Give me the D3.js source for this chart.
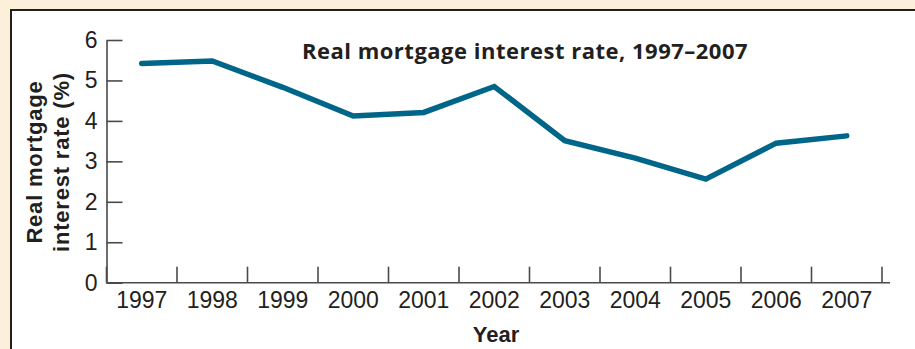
<!DOCTYPE html>
<html>
<head>
<meta charset="utf-8">
<script src="https://cdn.jsdelivr.net/npm/d3@7"></script>
<style>
  html, body { margin: 0; padding: 0; background: #fcf0db; }
  svg { display: block; }
</style>
</head>
<body>
<svg id="chart" width="915" height="349"></svg>
<script>
// Real mortgage interest rate by year (%)
const years = ["1997", "1998", "1999", "2000", "2001", "2002", "2003", "2004", "2005", "2006", "2007"];
const rates = [5.42, 5.48, 4.83, 4.12, 4.21, 4.85, 3.51, 3.08, 2.56, 3.45, 3.63];
const yTicks = [0, 1, 2, 3, 4, 5, 6];

const titleText = "Real mortgage interest rate, 1997\u20132007";
const yLabelLines = ["Real mortgage", "interest rate (%)"];
const xLabelText = "Year";

const svg = d3.select("#chart");
const W = 915, H = 349;

// white panel with dark top/left rule
svg.append("rect").attr("x", 11).attr("y", 10).attr("width", W).attr("height", H)
  .attr("fill", "#ffffff");
svg.append("path").attr("d", `M11,${H} V10 H${W}`)
  .attr("fill", "none").attr("stroke", "#231f20").attr("stroke-width", 2);

const x = d3.scaleBand().domain(years).range([106.5, 882]).paddingInner(0).paddingOuter(0);
const y = d3.scaleLinear().domain([0, 6]).range([282.7, 40]);

const axisColor = "#4a4a4a";
const textColor = "#231f20";
const tickFont = "'Liberation Sans', Arial, Helvetica, sans-serif";

// y axis: ticks point into the plot, labels on the left
const gy = svg.append("g").attr("transform", `translate(${x.range()[0]},0)`)
  .call(d3.axisLeft(y).tickValues(yTicks).tickFormat(d3.format("d"))
    .tickSize(-16).tickSizeOuter(0).tickPadding(9));
gy.select(".domain").attr("stroke", axisColor).attr("stroke-width", 1.6);
gy.selectAll(".tick line").attr("stroke", axisColor).attr("stroke-width", 1.6);
gy.selectAll(".tick text").attr("font-family", tickFont).attr("font-size", 23)
  .attr("fill", textColor);

// x axis: baseline, year labels centred in each band
const gx = svg.append("g").attr("transform", `translate(0,${y(0)})`)
  .call(d3.axisBottom(x).tickSize(0).tickPadding(9));
gx.select(".domain").attr("d", `M${x.range()[0]},0H890`)
  .attr("stroke", axisColor).attr("stroke-width", 1.6);
gx.selectAll(".tick text").attr("font-family", tickFont).attr("font-size", 23)
  .attr("fill", textColor);

// separator ticks at band boundaries, rising from the baseline
const bounds = years.map(d => x(d)).concat([x(years[years.length - 1]) + x.bandwidth()]);
svg.append("g").selectAll("line").data(bounds).join("line")
  .attr("x1", d => d).attr("x2", d => d)
  .attr("y1", y(0)).attr("y2", y(0) - 16)
  .attr("stroke", axisColor).attr("stroke-width", 1.6);

// the rate line
const line = d3.line()
  .x((d, i) => x(years[i]) + x.bandwidth() / 2)
  .y(d => y(d));
svg.append("path").datum(rates)
  .attr("d", line)
  .attr("fill", "none")
  .attr("stroke", "#006689")
  .attr("stroke-width", 5.5)
  .attr("stroke-linejoin", "miter")
  .attr("stroke-linecap", "round");

// title
svg.append("text")
  .attr("x", 525).attr("y", 59)
  .attr("text-anchor", "middle")
  .attr("font-family", "'Open Sans', Lato, sans-serif")
  .attr("font-weight", 700)
  .attr("font-size", 22)
  .attr("letter-spacing", 0.5)
  .attr("fill", textColor)
  .text(titleText);

// y axis title, two rotated lines
const yl = svg.append("text")
  .attr("transform", "translate(0,162) rotate(-90)")
  .attr("text-anchor", "middle")
  .attr("font-family", tickFont)
  .attr("font-weight", 700)
  .attr("font-size", 22)
  .attr("letter-spacing", 0.8)
  .attr("fill", textColor);
yl.selectAll("tspan").data(yLabelLines).join("tspan")
  .attr("x", 0)
  .attr("y", (d, i) => 42 + i * 26.5)
  .text(d => d);

// x axis title
svg.append("text")
  .attr("x", 496).attr("y", 342)
  .attr("text-anchor", "middle")
  .attr("font-family", tickFont)
  .attr("font-weight", 700)
  .attr("font-size", 22)
  .attr("fill", textColor)
  .text(xLabelText);
</script>
</body>
</html>
